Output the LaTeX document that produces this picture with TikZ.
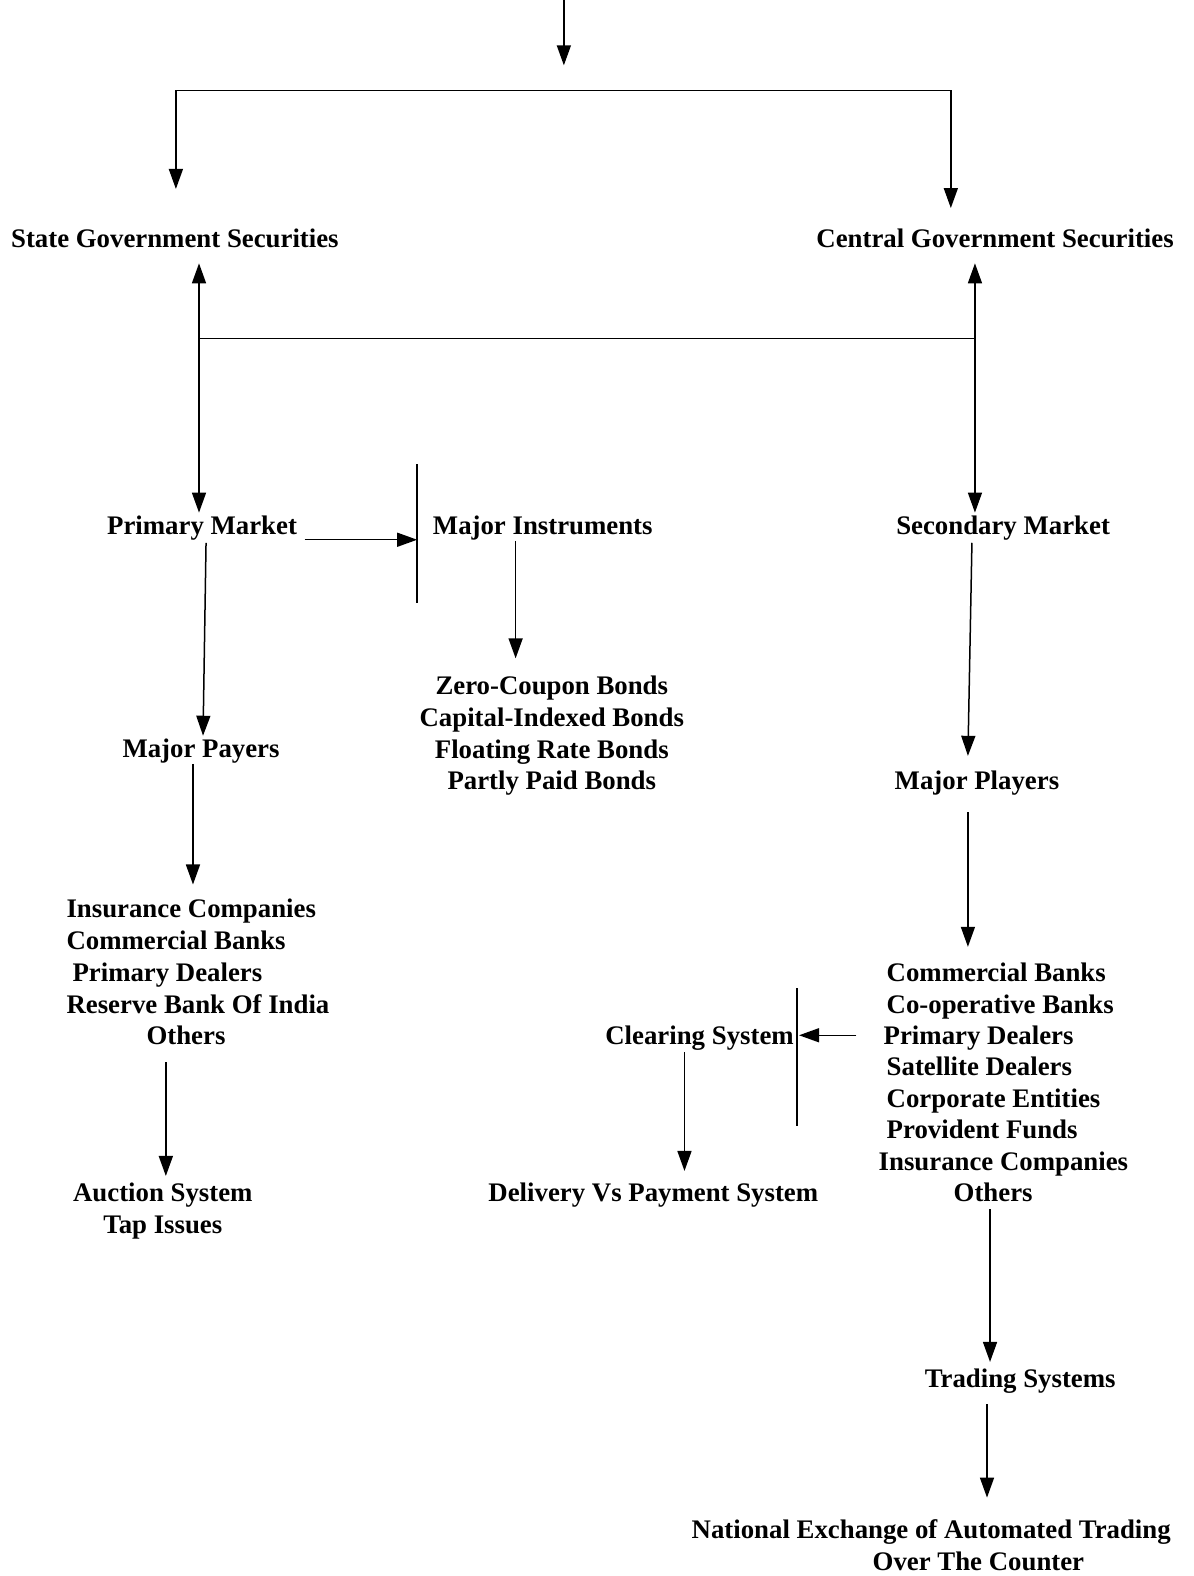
\documentclass[tikz,border=0pt]{standalone}
\usepackage{fontspec}
\setmainfont{Liberation Serif}
\usetikzlibrary{arrows.meta,calc}
\newcommand{\diafs}{\fontsize{26.8}{31.9}\selectfont\bfseries}
\newcommand{\diafstight}{\fontsize{26.8}{31.4}\selectfont\bfseries}
\begin{document}
\begin{tikzpicture}[x=1.005pt,y=-1.005pt,
  lbl/.style={font=\diafs, inner sep=0pt, anchor=base},
  blk/.style={font=\diafs, inner sep=0pt, anchor=north},
  arr/.style={-{Triangle[length=20pt,width=14pt]}, line width=1.5pt},
  darr/.style={{Triangle[length=20pt,width=14pt]}-{Triangle[length=20pt,width=14pt]}, line width=1.5pt},
  ln/.style={line width=1.5pt}]
\useasboundingbox[fill=white] (0,0) rectangle (1187,1568);

% nodes
\node[lbl] (sgs) at (174,246) {State Government Securities};
\node[lbl] (cgs) at (990,246) {Central Government Securities};
\node[lbl] (pm) at (201,532) {Primary Market};
\node[lbl] (mi) at (540,532) {Major Instruments};
\node[lbl] (sm) at (998,532) {Secondary Market};
\node[blk, align=center] (bonds) at (549,672) {Zero-Coupon Bonds\\Capital-Indexed Bonds\\Floating Rate Bonds\\Partly Paid Bonds};
\node[lbl] (mpay) at (200,754) {Major Payers};
\node[blk, anchor=north west, align=left] (plist) at (66,894) {Insurance Companies\\Commercial Banks\\\hspace*{6pt}Primary Dealers\\Reserve Bank Of India\\\hspace*{80pt}Others};
\node[blk, align=center] (auc) at (162,1177) {Auction System\\Tap Issues};
\node[lbl] (msp) at (972,785) {Major Players};
\node[blk, font=\diafstight, anchor=north west, align=left] (slist) at (882,958) {Commercial Banks\\Co-operative Banks\\\hspace*{-3pt}Primary Dealers\\Satellite Dealers\\Corporate Entities\\Provident Funds\\\hspace*{-8pt}Insurance Companies\\\hspace*{67pt}Others};
\node[lbl] (cs) at (696,1039) {Clearing System};
\node[lbl] (dvp) at (650,1195) {Delivery Vs Payment System};
\node[lbl] (ts) at (1015,1380) {Trading Systems};
\node[blk, anchor=north west, align=left] (nex) at (688,1512) {National Exchange of Automated Trading\\\hspace*{181pt}Over The Counter};

% coordinates
\coordinate (top0) at (561,0);
\coordinate (top1) at (561,65);
\coordinate (bL) at (175,90);
\coordinate (bR) at (946,90);
\coordinate (hL) at (198,337);
\coordinate (hR) at (970,337);
\coordinate (barA1) at (415,462);
\coordinate (barA2) at (415,600);
\coordinate (barB1) at (793,983);
\coordinate (barB2) at (793,1120);

% connectors
\draw[arr] (top0) -- (top1);
\draw[ln] (bL) -- (bR);
\draw[arr] (bL) -- ($(sgs.base)+(1,-58)$);
\draw[arr] (bR) -- ($(cgs.base)+(-44,-39)$);
\draw[darr] ($(sgs.base)+(24,16)$) -- ($(pm.base)+(-3,-22)$);
\draw[darr] ($(cgs.base)+(-20,16)$) -- ($(sm.base)+(-28,-22)$);
\draw[ln] (hL) -- (hR);
\draw[ln] (barA1) -- (barA2);
\draw[arr] ($(pm.base)+(102,5)$) -- ($(pm.base -| barA1)+(0,5)$);
\draw[arr] ($(mi.base)+(-27,6)$) -- ($(bonds.north)+(-36,-17)$);
\draw[arr] ($(pm.base)+(4,8)$) -- ($(mpay.base)+(2,-22)$);
\draw[arr] ($(mpay.base)+(-8,6)$) -- ($(plist.north west)+(126,-14)$);
\draw[arr] ($(plist.north west)+(99,163)$) -- ($(auc.north)+(3,-7)$);
\draw[arr] ($(sm.base)+(-31,8)$) -- ($(msp.base)+(-9,-33)$);
\draw[arr] ($(msp.base)+(-9,23)$) -- ($(slist.north west)+(81,-16)$);
\draw[ln] (barB1) -- (barB2);
\draw[arr] ($(slist.north west)+(-30,72)$) -- ($(slist.north west)+(-87,72)$);
\draw[arr] ($(cs.base)+(-15,8)$) -- ($(dvp.base)+(31,-30)$);
\draw[arr] ($(slist.north west)+(103,245)$) -- ($(ts.base)+(-30,-25)$);
\draw[arr] ($(ts.base)+(-33,17)$) -- ($(nex.north west)+(294,-22)$);
\end{tikzpicture}
\end{document}
